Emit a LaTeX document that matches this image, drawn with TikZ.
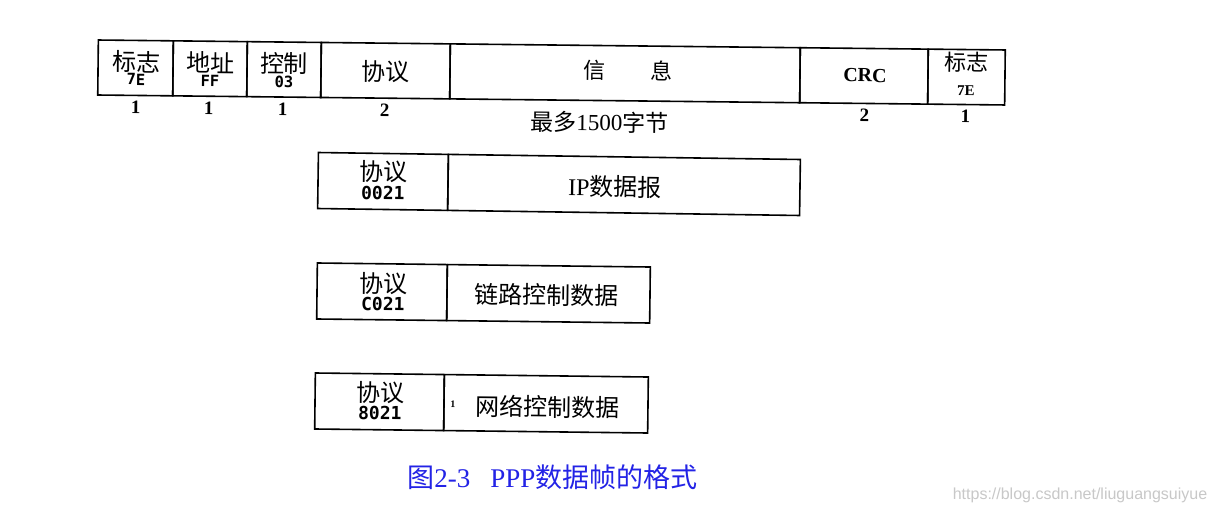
\documentclass[tikz,border=0pt]{standalone}
\usepackage{fontspec}
\setmainfont{Liberation Serif}
\newfontfamily\cjk{Noto Sans CJK SC}
\newfontfamily\hexfont{DejaVu Sans Mono}
\newfontfamily\wmfont{Liberation Sans}
\definecolor{capblue}{RGB}{35,35,230}
\definecolor{wmgray}{RGB}{200,200,200}
\tikzset{
  field/.style={draw, line width=1.6pt, inner sep=0pt},
  toprow/.style={field, minimum height=55pt},
  boxrow/.style={field, minimum height=56pt},
  zh/.style={inner sep=0pt, font=\fontsize{24}{24}\selectfont\cjk},
  hexsmall/.style={inner sep=0pt, font=\fontsize{15.5}{15.5}\selectfont\hexfont\bfseries},
  hexcode/.style={inner sep=0pt, font=\fontsize{18}{18}\selectfont\hexfont\bfseries},
  num/.style={inner sep=0pt, font=\fontsize{19}{19}\selectfont\bfseries},
  lat/.style={inner sep=0pt, font=\fontsize{24}{24}\selectfont},
}
\begin{document}
\begin{tikzpicture}[x=1pt,y=-1pt]
\fill[white] (0,0) rectangle (1214,514);
\useasboundingbox (0,0) rectangle (1214,514);

% top row
\begin{scope}[rotate around={-0.63:(552,72.5)}, transform shape]
  \node[toprow, minimum width=75pt]  (f1) at (135.5,72.5) {};
  \node[toprow, minimum width=74pt]  (f2) at (210,72.5) {};
  \node[toprow, minimum width=74pt]  (f3) at (284,72.5) {};
  \node[toprow, minimum width=129pt] (f4) at (385.5,72.5) {};
  \node[toprow, minimum width=350pt] (f5) at (625,72.5) {};
  \node[toprow, minimum width=128pt] (f6) at (864,72.5) {};
  \node[toprow, minimum width=77pt]  (f7) at (966.5,72.5) {};
  \node[zh] (t1) at (136,66.5) {标志};
  \node[hexsmall] (v1) at (136,84) {7E};
  \node[zh] (t2) at (210,66.5) {地址};
  \node[hexsmall] (v2) at (210,84.5) {FF};
  \node[zh] (t3) at (284,66.5) {控制};
  \node[hexsmall] (v3) at (284,84.5) {03};
  \node[zh] (t4) at (385.5,73.5) {协议};
  \node[zh, font=\fontsize{22}{22}\selectfont\cjk] (t5) at (628,69.5) {信\hspace{45pt}息};
  \node[inner sep=0pt, font=\fontsize{20}{20}\selectfont\bfseries] (t6) at (865,72) {CRC};
  \node[zh, font=\fontsize{22}{22}\selectfont\cjk] (t7) at (966,58) {标志};
  \node[inner sep=0pt, font=\fontsize{15}{15}\selectfont\bfseries] (v7) at (966,86.5) {7E};
  \node[num] (n1) at (136,112) {1};
  \node[num] (n2) at (209,112) {1};
  \node[num] (n3) at (283,112) {1};
  \node[num] (n4) at (385,112) {2};
  \node[num] (n6) at (865,112) {2};
  \node[num] (n7) at (966,112) {1};
  \node[lat, font=\fontsize{23}{23}\selectfont] (n5) at (600,121.5) {{\cjk 最多}1500{\cjk 字节}};
\end{scope}

% IP datagram
\begin{scope}[rotate around={-0.83:(559,184)}, transform shape]
  \node[boxrow, minimum width=130pt] (p1) at (383,184) {};
  \node[boxrow, minimum width=352pt] (d1) at (624,184) {};
  \node[zh] (p1a) at (383,174) {协议};
  \node[hexcode] (p1b) at (383,195.5) {0021};
  \node[lat] (d1a) at (615,186) {IP{\cjk 数据报}};
\end{scope}

% link control
\begin{scope}[rotate around={-0.69:(483.5,293)}, transform shape]
  \node[boxrow, minimum width=130pt] (p2) at (382,293) {};
  \node[boxrow, minimum width=203pt] (d2) at (548.5,293) {};
  \node[zh] (p2a) at (383,284.5) {协议};
  \node[hexcode] (p2b) at (383,305) {C021};
  \node[zh] (d2a) at (547,294.2) {链路控制数据};
\end{scope}

% network control
\begin{scope}[rotate around={-0.69:(481.5,403)}, transform shape]
  \node[boxrow, minimum width=129pt] (p3) at (379.5,403) {};
  \node[boxrow, minimum width=204pt] (d3) at (546,403) {};
  \node[zh] (p3a) at (380,393.5) {协议};
  \node[hexcode] (p3b) at (380,414.5) {8021};
  \node[inner sep=0pt, font=\fontsize{10}{10}\selectfont\bfseries] (d3x) at (453,405) {1};
  \node[zh] (d3a) at (548,406.2) {网络控制数据};
\end{scope}

% caption
\node[inner sep=0pt, text=capblue, font=\fontsize{27}{27}\selectfont] (cap) at (552.5,477)
  {{\cjk 图}2-3\hspace{20pt}PPP{\cjk 数据帧的格式}};
\node[inner sep=0pt, text=wmgray, font=\fontsize{16}{16}\selectfont\wmfont] (wm) at (1080,495)
  {https://blog.csdn.net/liuguangsuiyue};
\end{tikzpicture}
\end{document}
